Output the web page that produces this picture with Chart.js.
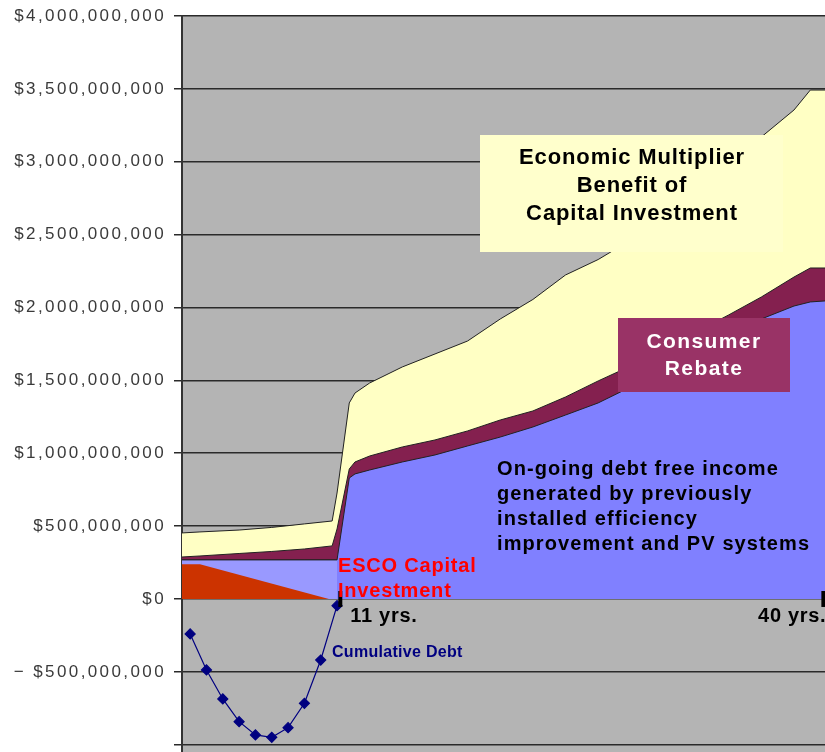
<!DOCTYPE html>
<html>
<head>
<meta charset="utf-8">
<script src="https://cdn.jsdelivr.net/npm/chart.js@4.4.1/dist/chart.umd.min.js"></script>
<style>
  html, body { margin: 0; padding: 0; background: #fff; overflow: hidden; }
  canvas { display: block; }
</style>
</head>
<body>
<canvas id="chart" width="825" height="752"></canvas>
<script>
// All money values in $ millions, x in years.
const years = [0.5, 1.6, 4, 6, 8, 9.7, 10, 10.75, 11.1, 12, 14, 16, 18, 20, 22, 24, 26, 28, 30, 32, 34, 36, 38, 39, 39.9];
const debtFreeIncome = [268, 268, 268, 268, 268, 268, 268, 830, 858, 885, 940, 988, 1050, 1111, 1180, 1262, 1345, 1455, 1571, 1688, 1804, 1921, 2010, 2038, 2045];
const consumerRebate = [20, 27, 44, 58, 75, 96, 212, 62, 82, 96, 103, 103, 103, 117, 110, 124, 151, 144, 144, 144, 145, 151, 199, 233, 226];
const multiplierBenefit = [165, 165, 161, 165, 172, 171, 247, 453, 473, 501, 549, 590, 617, 693, 765, 837, 833, 864, 872, 906, 981, 1098, 1146, 1221, 1221];

const escoPeriodYears = [0.5, 10];
const escoPeriodIncome = [268, 268];
const escoInvestYears = [0.5, 1.6, 9.5];
const escoInvestment = [238, 238, 0];

const debtYears = [1, 2, 3, 4, 5, 6, 7, 8, 9, 10];
const cumulativeDebt = [-240, -487, -686, -842, -933, -949, -883, -716, -419, -46];

const markYears = [10.2, 39.8];
const markLabels = ['11 yrs.', '40 yrs.'];

const yTickValues = [-1000, -500, 0, 500, 1000, 1500, 2000, 2500, 3000, 3500, 4000];

const M = 1e6;
const pts = (xs, ys) => xs.map((x, i) => ({ x, y: ys[i] * M }));
const rebateTop = debtFreeIncome.map((v, i) => v + consumerRebate[i]);
const multiplierTop = rebateTop.map((v, i) => v + multiplierBenefit[i]);

const FONT = "'Liberation Sans', Arial, sans-serif";

function txt(ctx, s, x, y, size, color, align, spacing) {
  ctx.save();
  ctx.font = `bold ${size}px ${FONT}`;
  ctx.fillStyle = color;
  ctx.textAlign = align;
  ctx.textBaseline = 'alphabetic';
  ctx.letterSpacing = spacing + 'px';
  ctx.fillText(s, x, y);
  ctx.restore();
}

const decorations = {
  id: 'decorations',
  beforeDraw(chart) {
    const { ctx, chartArea: a } = chart;
    ctx.save();
    ctx.fillStyle = '#b4b4b4';
    ctx.fillRect(a.left, a.top, a.right - a.left, a.bottom - a.top);
    ctx.restore();
    ctx.letterSpacing = '2.4px'; // wide axis labels like the original
  },
  afterDatasetsDraw(chart) {
    const { ctx } = chart;
    const xs = chart.scales.x;
    ctx.letterSpacing = '0px';

    // Economic multiplier text box
    ctx.fillStyle = '#ffffcc';
    ctx.fillRect(480, 135, 303, 117);
    txt(ctx, 'Economic Multiplier', 632, 164, 22, '#000', 'center', 0.9);
    txt(ctx, 'Benefit of', 632, 192, 22, '#000', 'center', 0.9);
    txt(ctx, 'Capital Investment', 632, 220, 22, '#000', 'center', 0.9);

    // Consumer rebate box
    ctx.fillStyle = '#993366';
    ctx.fillRect(618, 318, 172, 74);
    txt(ctx, 'Consumer', 704, 348, 21, '#fff', 'center', 1.4);
    txt(ctx, 'Rebate', 704, 375, 21, '#fff', 'center', 1.4);

    const lines = ['On-going debt free income', 'generated by previously', 'installed efficiency', 'improvement and PV systems'];
    lines.forEach((l, i) => txt(ctx, l, 497, 475 + i * 25, 20, '#000', 'left', 1.1));

    txt(ctx, 'ESCO Capital', 338, 572, 20, '#ff0000', 'left', 0.8);
    txt(ctx, 'Investment', 338, 597, 20, '#ff0000', 'left', 0.8);

    txt(ctx, 'Cumulative Debt', 332, 657, 16, '#000080', 'left', 0.3);

    markYears.forEach((yr, i) => {
      const px = xs.getPixelForValue(yr);
      const last = i === markYears.length - 1;
      txt(ctx, markLabels[i], last ? px + 3 : px + 10, 622, 20, '#000', last ? 'right' : 'left', 0.7);
    });
  }
};

const fmt = (v) => {
  if (v === -1000 * M) return '';
  const s = '$' + Math.abs(v).toLocaleString('en-US');
  return v < 0 ? '\u2212 ' + s : s;
};

new Chart(document.getElementById('chart').getContext('2d'), {
  type: 'line',
  data: {
    datasets: [
      { label: 'Year marks', data: markYears.map((x) => ({ x, y: 0 })), showLine: false,
        pointStyle: 'line', rotation: 90, pointRadius: 8, borderWidth: 4, borderColor: '#000' },
      { label: 'Cumulative Debt', data: pts(debtYears, cumulativeDebt), borderColor: '#000080', borderWidth: 1.2,
        pointStyle: 'rectRot', pointRadius: 5, pointBackgroundColor: '#000080', pointBorderColor: '#000080', fill: false },
      { label: 'ESCO Capital Investment', data: pts(escoInvestYears, escoInvestment), backgroundColor: '#cc3300',
        borderWidth: 0, pointRadius: 0, fill: 'origin' },
      { label: 'ESCO period income', data: pts(escoPeriodYears, escoPeriodIncome), backgroundColor: '#9999ff',
        borderColor: '#222', borderWidth: 1, pointRadius: 0, fill: 'origin' },
      { label: 'Debt free income', data: pts(years, debtFreeIncome), backgroundColor: '#8080ff',
        borderColor: '#222', borderWidth: 1, pointRadius: 0, fill: 'origin' },
      { label: 'Consumer Rebate', data: pts(years, rebateTop), backgroundColor: '#84204f',
        borderColor: '#222', borderWidth: 1, pointRadius: 0, fill: 'origin' },
      { label: 'Economic Multiplier', data: pts(years, multiplierTop), backgroundColor: '#ffffc4',
        borderColor: '#222', borderWidth: 1, pointRadius: 0, fill: 'origin' },
    ],
  },
  options: {
    responsive: false,
    animation: false,
    devicePixelRatio: 1,
    layout: { autoPadding: false, padding: { top: 16, left: 0, right: 0, bottom: 0 } },
    plugins: { legend: { display: false }, tooltip: { enabled: false } },
    elements: { line: { tension: 0 } },
    scales: {
      x: { type: 'linear', min: 0.5, max: 39.9, bounds: 'data', display: false },
      y: {
        min: -1050 * M, max: 4000 * M,
        border: { color: '#333', width: 2 },
        grid: { color: '#2a2a2a', lineWidth: 1.5, tickLength: 8, drawTicks: true },
        ticks: { padding: 8, color: '#3a3a3a', font: { family: FONT, size: 17 }, callback: fmt },
        afterBuildTicks(s) { s.ticks = yTickValues.map((v) => ({ value: v * M })); },
        afterFit(s) { s.width = 182; s.paddingTop = 0; s.paddingBottom = 0; },
      },
    },
  },
  plugins: [decorations],
});
</script>
</body>
</html>
